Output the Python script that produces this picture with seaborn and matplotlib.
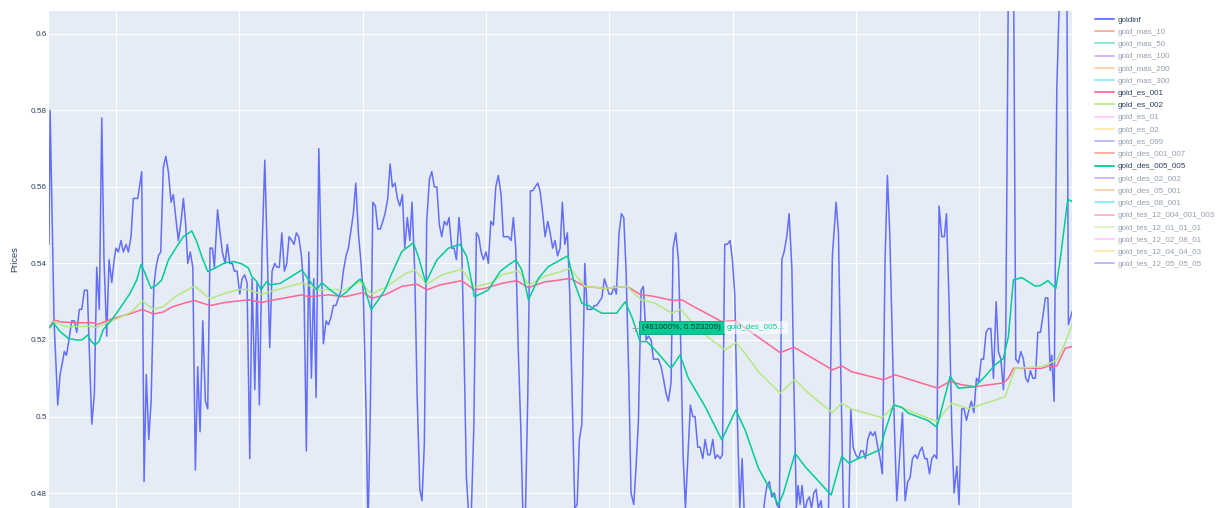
import numpy as np
import pandas as pd
import matplotlib
matplotlib.use("Agg")
import matplotlib.pyplot as plt
from matplotlib.lines import Line2D
from matplotlib.ticker import MultipleLocator, FuncFormatter
import seaborn as sns

# ---------------- data ----------------
GOLDINF_X = [
    45.7, 46.6, 49.8, 52.8, 54.7, 56.5, 58.1, 59.8, 61.4, 64.1,
    66.3, 68.2, 70.3, 72.3, 74.4, 76.8, 80.4, 82.5, 84.4, 86.5,
    88.5, 90.3, 92.5, 94.4, 96.6, 98.5, 100.1, 101.9, 104.1, 106.0,
    108.2, 110.1, 112.2, 114.1, 117.7, 120.9, 122.8, 124.6, 126.6, 128.5,
    130.7, 132.5, 134.4, 136.3, 138.4, 140.4, 142.5, 144.7, 146.5, 148.5,
    150.6, 152.8, 154.7, 156.6, 158.2, 160.3, 162.3, 164.4, 166.3, 168.2,
    170.4, 172.5, 174.4, 176.3, 178.2, 179.8, 182.4, 184.4, 186.3, 188.5,
    190.3, 192.3, 194.4, 196.0, 198.2, 200.4, 202.3, 204.4, 206.3, 208.5,
    210.4, 212.6, 214.4, 216.3, 218.5, 220.7, 222.5, 224.7, 226.6, 228.8,
    230.6, 232.5, 234.5, 236.6, 238.5, 240.4, 242.6, 244.4, 246.3, 248.2,
    250.4, 252.5, 254.4, 256.4, 258.5, 260.4, 262.3, 264.5, 266.3, 268.2,
    270.4, 272.3, 274.4, 276.3, 278.3, 280.4, 282.6, 284.4, 286.6, 288.5,
    290.7, 292.5, 294.5, 296.6, 298.5, 300.6, 302.8, 304.4, 306.3, 308.3,
    310.4, 312.3, 314.4, 316.4, 318.2, 320.4, 322.3, 324.2, 326.3, 328.2,
    330.2, 332.3, 334.2, 336.3, 338.3, 340.1, 342.3, 344.2, 346.4, 348.2,
    350.1, 352.0, 354.2, 356.1, 358.2, 360.2, 362.3, 364.2, 366.3, 368.3,
    370.1, 372.3, 374.2, 376.1, 378.2, 380.4, 382.3, 384.2, 386.1, 388.0,
    390.2, 392.3, 394.2, 396.1, 398.0, 400.1, 402.0, 404.0, 406.1, 408.0,
    410.1, 412.3, 414.2, 416.1, 418.2, 420.4, 422.3, 424.2, 426.3, 428.3,
    430.2, 432.0, 434.0, 436.1, 438.0, 439.9, 442.1, 443.9, 446.1, 448.0,
    450.2, 452.1, 454.2, 456.1, 458.1, 460.2, 462.0, 464.0, 466.1, 468.0,
    469.9, 472.1, 474.0, 475.8, 477.8, 480.2, 482.1, 483.9, 485.9, 488.0,
    489.9, 491.8, 494.0, 496.1, 498.0, 499.9, 501.9, 504.0, 505.8, 508.0,
    509.9, 511.8, 513.7, 515.9, 517.7, 519.9, 521.8, 523.7, 525.9, 527.7,
    529.9, 531.8, 534.0, 535.8, 538.0, 539.9, 542.1, 543.9, 546.1, 548.0,
    550.2, 551.8, 554.0, 556.1, 558.0, 559.9, 561.8, 563.7, 565.8, 567.8,
    569.6, 571.8, 573.7, 575.9, 577.8, 580.0, 581.8, 584.0, 585.9, 587.7,
    589.9, 591.8, 593.7, 595.8, 598.0, 599.9, 601.8, 603.7, 605.9, 607.8,
    609.8, 611.8, 615.9, 620.0, 624.0, 626.4, 628.0, 629.9, 631.8, 634.0,
    635.9, 638.0, 640.0, 641.8, 644.0, 645.9, 648.1, 649.9, 651.8, 653.2,
    654.8, 656.4, 658.4, 660.5, 662.3, 664.1, 665.9, 667.8, 669.6, 671.8,
    674.3, 677.5, 681.0, 684.0, 685.9, 688.1, 689.9, 692.1, 694.1, 695.9,
    697.8, 700.0, 702.1, 704.0, 705.9, 707.8, 709.7, 711.8, 713.8, 715.6,
    717.8, 719.7, 721.5, 723.7, 725.6, 727.5, 729.4, 731.3, 733.2, 737.8,
    740.0, 742.1, 744.0, 745.9, 748.1, 749.9, 751.9, 753.7, 755.9, 757.8,
    759.7, 761.6, 763.7, 765.7, 767.5, 769.7, 771.8, 773.5, 775.6, 777.8,
    779.7, 781.9, 783.7, 785.9, 787.8, 789.7, 791.9, 793.7, 795.7, 797.8,
    799.7, 801.6, 803.6, 805.6, 807.5, 809.5, 811.6, 813.8, 815.6, 817.6,
    819.7, 821.6, 824.3, 827.5, 829.7, 831.8, 833.8, 835.9, 837.8, 839.7,
    841.6, 843.5, 845.6, 847.6, 849.7, 851.6, 853.7, 855.7, 857.6, 858.9,
    860.8, 863.0, 866.5, 870.5, 872.4, 876.0,
]
GOLDINF_Y = [
    0.545, 0.580, 0.525, 0.503, 0.511, 0.514, 0.517, 0.516, 0.519, 0.525,
    0.525, 0.522, 0.528, 0.528, 0.533, 0.533, 0.498, 0.506, 0.539, 0.528,
    0.578, 0.541, 0.521, 0.541, 0.535, 0.541, 0.544, 0.543, 0.546, 0.543,
    0.545, 0.543, 0.547, 0.557, 0.557, 0.564, 0.483, 0.511, 0.494, 0.504,
    0.534, 0.539, 0.542, 0.543, 0.565, 0.568, 0.564, 0.556, 0.558, 0.552,
    0.546, 0.551, 0.557, 0.550, 0.540, 0.543, 0.539, 0.486, 0.513, 0.496,
    0.525, 0.504, 0.502, 0.544, 0.544, 0.539, 0.554, 0.548, 0.543, 0.540,
    0.545, 0.540, 0.540, 0.538, 0.538, 0.532, 0.536, 0.537, 0.535, 0.489,
    0.536, 0.507, 0.535, 0.503, 0.544, 0.567, 0.545, 0.518, 0.538, 0.540,
    0.539, 0.539, 0.548, 0.538, 0.540, 0.547, 0.546, 0.545, 0.548, 0.547,
    0.542, 0.533, 0.491, 0.543, 0.510, 0.536, 0.505, 0.570, 0.544, 0.519,
    0.525, 0.524, 0.526, 0.529, 0.529, 0.531, 0.533, 0.538, 0.542, 0.544,
    0.549, 0.553, 0.561, 0.548, 0.541, 0.532, 0.502, 0.470, 0.502, 0.556,
    0.555, 0.549, 0.549, 0.551, 0.553, 0.557, 0.566, 0.560, 0.561, 0.557,
    0.555, 0.558, 0.544, 0.552, 0.546, 0.556, 0.538, 0.506, 0.481, 0.478,
    0.493, 0.551, 0.562, 0.564, 0.560, 0.560, 0.550, 0.547, 0.551, 0.550,
    0.552, 0.544, 0.544, 0.541, 0.552, 0.544, 0.517, 0.484, 0.474, 0.473,
    0.497, 0.548, 0.547, 0.543, 0.541, 0.543, 0.540, 0.551, 0.550, 0.560,
    0.563, 0.558, 0.547, 0.547, 0.547, 0.546, 0.552, 0.544, 0.517, 0.497,
    0.472, 0.474, 0.506, 0.559, 0.559, 0.560, 0.561, 0.559, 0.553, 0.547,
    0.551, 0.548, 0.544, 0.546, 0.542, 0.544, 0.556, 0.545, 0.548, 0.532,
    0.506, 0.476, 0.477, 0.494, 0.498, 0.540, 0.528, 0.528, 0.528, 0.529,
    0.529, 0.530, 0.531, 0.536, 0.534, 0.532, 0.532, 0.534, 0.532, 0.548,
    0.553, 0.552, 0.538, 0.510, 0.480, 0.477, 0.487, 0.499, 0.533, 0.534,
    0.520, 0.521, 0.520, 0.515, 0.515, 0.515, 0.513, 0.510, 0.506, 0.504,
    0.509, 0.544, 0.548, 0.541, 0.519, 0.490, 0.476, 0.489, 0.503, 0.500,
    0.500, 0.492, 0.492, 0.489, 0.494, 0.490, 0.490, 0.494, 0.489, 0.490,
    0.489, 0.490, 0.545, 0.545, 0.546, 0.541, 0.532, 0.502, 0.476, 0.489,
    0.472, 0.466, 0.465, 0.468, 0.472, 0.479, 0.482, 0.483, 0.479, 0.480,
    0.477, 0.476, 0.541, 0.543, 0.547, 0.553, 0.539, 0.506, 0.476, 0.482,
    0.477, 0.482, 0.475, 0.478, 0.479, 0.476, 0.480, 0.481, 0.476, 0.478,
    0.470, 0.468, 0.542, 0.556, 0.548, 0.506, 0.476, 0.468, 0.472, 0.502,
    0.492, 0.490, 0.489, 0.491, 0.491, 0.489, 0.494, 0.496, 0.495, 0.496,
    0.492, 0.489, 0.485, 0.541, 0.563, 0.548, 0.523, 0.497, 0.478, 0.501,
    0.478, 0.483, 0.484, 0.489, 0.490, 0.489, 0.491, 0.492, 0.489, 0.489,
    0.485, 0.489, 0.490, 0.489, 0.555, 0.547, 0.547, 0.553, 0.530, 0.497,
    0.480, 0.487, 0.477, 0.502, 0.502, 0.499, 0.502, 0.504, 0.501, 0.510,
    0.509, 0.515, 0.515, 0.522, 0.523, 0.523, 0.510, 0.530, 0.517, 0.515,
    0.507, 0.522, 0.640, 0.640, 0.515, 0.514, 0.517, 0.515, 0.510, 0.509,
    0.512, 0.510, 0.510, 0.522, 0.522, 0.526, 0.531, 0.531, 0.512, 0.516,
    0.504, 0.586, 0.625, 0.660, 0.524, 0.528,
]

ES001_X = [46.3, 50.0, 56.0, 69.5, 81.7, 84.4, 88.5, 92.5, 96.6, 101.9,
           112.8, 121.4, 130.3, 138.4, 145.2, 156.0, 163.6, 176.3, 188.5, 207.4,
           218.2, 223.6, 250.7, 256.0, 272.3, 285.8, 300.6, 307.4, 318.2, 331.8,
           343.9, 352.1, 362.8, 380.4, 390.7, 399.3, 412.9, 425.0, 434.5, 448.0,
           460.2, 468.3, 480.4, 496.7, 514.3, 525.9, 534.5, 552.0, 558.9, 567.0,
           591.3, 602.1, 638.6, 649.9, 681.0, 688.6, 696.7, 722.4, 731.8, 766.5,
           776.5, 785.9, 796.7, 819.7, 823.7, 827.8, 850.8, 856.2, 863.0, 869.7,
           875.2]
ES001_Y = [0.5235, 0.5252, 0.5247, 0.5245, 0.5245, 0.5240, 0.5245, 0.5250, 0.5255, 0.5260,
           0.5270, 0.5280, 0.5268, 0.5273, 0.5286, 0.5297, 0.5303, 0.5290, 0.5298, 0.5305,
           0.5298, 0.5302, 0.5318, 0.5313, 0.5318, 0.5313, 0.5324, 0.5309, 0.5318, 0.5340,
           0.5346, 0.5331, 0.5344, 0.5355, 0.5331, 0.5335, 0.5348, 0.5355, 0.5337, 0.5352,
           0.5357, 0.5361, 0.5340, 0.5335, 0.5340, 0.5318, 0.5315, 0.5303, 0.5305, 0.5290,
           0.5248, 0.5250, 0.5167, 0.5181, 0.5122, 0.5132, 0.5117, 0.5096, 0.5109, 0.5074,
           0.5092, 0.5083, 0.5078, 0.5088, 0.5100, 0.5126, 0.5126, 0.5132, 0.5132, 0.5178,
           0.5183]

ES002_X = [46.3, 50.0, 58.7, 69.5, 80.4, 84.4, 92.5, 104.7, 112.8, 121.4,
           130.3, 138.4, 147.9, 163.6, 176.3, 188.5, 199.3, 207.4, 218.2, 223.6,
           234.5, 250.7, 258.8, 262.8, 275.0, 285.8, 298.0, 307.4, 318.2, 334.5,
           342.6, 352.1, 364.2, 380.4, 390.7, 404.8, 412.9, 426.3, 435.0, 448.0,
           460.2, 468.3, 480.4, 496.7, 514.3, 525.9, 537.2, 550.7, 558.3, 569.6,
           583.2, 594.0, 602.9, 610.2, 621.0, 638.6, 650.7, 661.5, 681.0, 688.6,
           696.2, 721.1, 731.8, 765.7, 777.8, 791.3, 810.3, 821.1, 829.2, 850.8,
           863.0, 869.7, 875.2]
ES002_Y = [0.5232, 0.5248, 0.5235, 0.5235, 0.5236, 0.5232, 0.5245, 0.5261, 0.5274, 0.5302,
           0.5280, 0.5287, 0.5313, 0.5341, 0.5308, 0.5322, 0.5332, 0.5332, 0.5319, 0.5325,
           0.5335, 0.5349, 0.5340, 0.5331, 0.5332, 0.5331, 0.5352, 0.5320, 0.5337, 0.5373,
           0.5383, 0.5346, 0.5370, 0.5385, 0.5338, 0.5350, 0.5370, 0.5381, 0.5344, 0.5367,
           0.5378, 0.5387, 0.5340, 0.5335, 0.5340, 0.5305, 0.5296, 0.5270, 0.5280, 0.5235,
           0.5200, 0.5174, 0.5193, 0.5165, 0.5117, 0.5061, 0.5097, 0.5061, 0.5010, 0.5035,
           0.5020, 0.4997, 0.5030, 0.4987, 0.5035, 0.5020, 0.5040, 0.5052, 0.5126, 0.5130,
           0.5148, 0.5192, 0.5240]

DES005_X = [46.3, 49.2, 54.7, 61.4, 68.2, 72.3, 77.1, 79.8, 83.0, 86.3,
            89.8, 96.6, 103.3, 111.4, 116.9, 120.4, 123.6, 128.5, 133.1, 137.1,
            142.5, 149.3, 154.7, 161.5, 165.5, 169.6, 174.4, 180.4, 188.5, 195.2,
            202.0, 207.4, 210.1, 214.2, 217.7, 222.3, 225.0, 233.1, 239.8, 250.7,
            257.4, 262.8, 266.9, 273.6, 281.7, 287.2, 293.9, 298.0, 300.6, 306.9,
            312.8, 318.2, 323.7, 331.8, 337.1, 341.2, 345.2, 351.2, 360.2, 369.6,
            379.1, 384.5, 390.7, 396.7, 402.0, 411.5, 418.2, 424.5, 429.1, 434.5,
            442.6, 450.7, 460.2, 466.4, 471.0, 477.8, 483.1, 494.0, 506.1, 512.9,
            518.3, 525.0, 530.5, 537.2, 550.2, 557.5, 564.2, 577.8, 591.3, 602.7,
            610.2, 621.0, 637.2, 641.3, 650.7, 658.9, 680.0, 688.6, 694.5, 702.1,
            710.2, 719.7, 723.2, 730.5, 737.3, 742.6, 758.8, 765.7, 776.5, 783.2,
            796.7, 804.8, 812.9, 819.7, 823.7, 827.8, 834.6, 845.4, 849.4, 855.7,
            862.2, 865.7, 871.9, 875.2]
DES005_Y = [0.5232, 0.5245, 0.5222, 0.5204, 0.5200, 0.5200, 0.5213, 0.5198, 0.5187, 0.5196,
            0.5228, 0.5253, 0.5283, 0.5322, 0.5357, 0.5398, 0.5374, 0.5335, 0.5344, 0.5357,
            0.5409, 0.5444, 0.5470, 0.5485, 0.5457, 0.5418, 0.5379, 0.5388, 0.5402, 0.5405,
            0.5399, 0.5388, 0.5366, 0.5353, 0.5331, 0.5353, 0.5344, 0.5348, 0.5361, 0.5383,
            0.5353, 0.5331, 0.5350, 0.5331, 0.5313, 0.5326, 0.5348, 0.5359, 0.5348, 0.5279,
            0.5305, 0.5331, 0.5374, 0.5431, 0.5444, 0.5454, 0.5418, 0.5350, 0.5409, 0.5440,
            0.5450, 0.5418, 0.5313, 0.5322, 0.5331, 0.5379, 0.5396, 0.5409, 0.5383, 0.5305,
            0.5361, 0.5392, 0.5409, 0.5420, 0.5357, 0.5296, 0.5290, 0.5270, 0.5270, 0.5300,
            0.5261, 0.5196, 0.5196, 0.5174, 0.5126, 0.5161, 0.5100, 0.5026, 0.4939, 0.5017,
            0.4965, 0.4865, 0.4770, 0.4800, 0.4904, 0.4869, 0.4795, 0.4896, 0.4878, 0.4891,
            0.4900, 0.4913, 0.4956, 0.5030, 0.5024, 0.5009, 0.4989, 0.4972, 0.5105, 0.5074,
            0.5078, 0.5105, 0.5135, 0.5152, 0.5209, 0.5357, 0.5363, 0.5341, 0.5342, 0.5355,
            0.5335, 0.5409, 0.5568, 0.5562]

LEGEND_NAMES = ["goldinf", "gold_mas_10", "gold_mas_50", "gold_mas_100", "gold_mas_200",
                "gold_mas_300", "gold_es_001", "gold_es_002", "gold_es_01", "gold_es_02",
                "gold_es_099", "gold_des_001_007", "gold_des_005_005", "gold_des_02_002",
                "gold_des_05_001", "gold_des_08_001", "gold_tes_12_004_001_003",
                "gold_tes_12_01_01_01", "gold_tes_12_02_08_01", "gold_tes_12_04_04_03",
                "gold_tes_12_05_05_05"]
VISIBLE = ["goldinf", "gold_es_001", "gold_es_002", "gold_des_005_005"]
Y_TICKS = [0.48, 0.50, 0.52, 0.54, 0.56, 0.58, 0.60]
Y_TITLE = "Prices"
HOVER_X = 521.0
HOVER_Y = 0.523209
HOVER_TEXT = "(481000%, 0.523209)"
HOVER_NAME = "gold_des_005..."

# ---------------- style ----------------
PALETTE = ["#636EFA", "#EF553B", "#00CC96", "#AB63FA", "#FFA15A",
           "#19D3F3", "#FF6692", "#B6E880", "#FF97FF", "#FECB52"]
FONT_COLOR = "#2a3f5f"

sns.set_theme(style="darkgrid", rc={"axes.facecolor": "#E5ECF6",
                                    "grid.color": "white",
                                    "axes.edgecolor": "#E5ECF6"})
plt.rcParams["font.family"] = ["Liberation Sans", "DejaVu Sans"]

fig = plt.figure(figsize=(12.23, 5.08), dpi=100)
fig.patch.set_facecolor("white")
ax = fig.add_axes([49 / 1223, 0.0, (1072 - 49) / 1223, (508 - 10.5) / 508])

series = {
    "goldinf": (GOLDINF_X, GOLDINF_Y),
    "gold_es_001": (ES001_X, ES001_Y),
    "gold_es_002": (ES002_X, ES002_Y),
    "gold_des_005_005": (DES005_X, DES005_Y),
}
color_of = {n: PALETTE[i % len(PALETTE)] for i, n in enumerate(LEGEND_NAMES)}

for name in VISIBLE:
    xs, ys = series[name]
    df = pd.DataFrame({"x": xs, "y": ys})
    sns.lineplot(data=df, x="x", y="y", ax=ax, color=color_of[name],
                 linewidth=1.1, estimator=None, sort=False, legend=False)

ax.set_xlim(45.7, 875.3)
ax.set_ylim(0.4761, 0.6061)
ax.xaxis.set_major_locator(MultipleLocator(100))
ax.set_yticks(Y_TICKS)
ax.yaxis.set_major_formatter(FuncFormatter(lambda v, p: f"{v:.2f}".rstrip("0").rstrip(".")))
ax.set_xticklabels([])
ax.set_xlabel("")
ax.grid(True, color="white", linewidth=0.8)
ax.tick_params(axis="both", length=0, labelsize=5.9, labelcolor=FONT_COLOR, pad=1.5)
for s in ax.spines.values():
    s.set_visible(False)
ax.set_ylabel(Y_TITLE, fontsize=6.7, color=FONT_COLOR, labelpad=8)

# ---------------- legend ----------------
handles = []
for name in LEGEND_NAMES:
    alpha = 1.0 if name in VISIBLE else 0.5
    handles.append(Line2D([0], [0], color=color_of[name], lw=1.3, alpha=alpha))
leg = fig.legend(handles, LEGEND_NAMES, loc="upper left",
                 bbox_to_anchor=(1095 / 1223, 1 - 16.0 / 508),
                 frameon=False, fontsize=5.8, handlelength=2.35, handletextpad=0.45,
                 labelspacing=0.57, borderpad=0, borderaxespad=0)
for txt, name in zip(leg.get_texts(), LEGEND_NAMES):
    txt.set_color(FONT_COLOR if name in VISIBLE else "#949faf")

# ---------------- hover label ----------------
ax.plot([HOVER_X], [HOVER_Y], marker="+", color="#9a9a9a", ms=5, mew=0.7, zorder=9)
ann1 = ax.annotate(HOVER_TEXT, xy=(HOVER_X, HOVER_Y), xytext=(4.8, 0),
                   textcoords="offset points", ha="left", va="center",
                   fontsize=5.85, color="#0f3d2f", zorder=10,
                   bbox=dict(boxstyle="square,pad=0.4", fc="#00CC96", ec="#00a47a", lw=0.6))
fig.canvas.draw()
bb = ann1.get_bbox_patch().get_window_extent()
ax.annotate(HOVER_NAME, xy=(bb.x1, (bb.y0 + bb.y1) / 2), xycoords="figure pixels",
            xytext=(2.4, 0), textcoords="offset points", ha="left", va="center",
            fontsize=5.85, color="#00CC96", zorder=10,
            bbox=dict(boxstyle="square,pad=0.4", fc="white", ec="none", alpha=0.55))

fig.savefig("out.png", dpi=100, facecolor="white")
